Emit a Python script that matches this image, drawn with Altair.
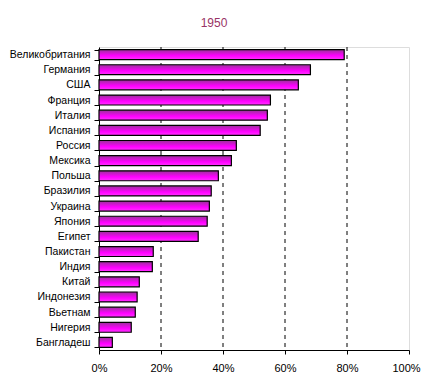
import altair as alt
import pandas as pd

countries = ["Великобритания", "Германия", "США", "Франция", "Италия", "Испания",
             "Россия", "Мексика", "Польша", "Бразилия", "Украина", "Япония", "Египет",
             "Пакистан", "Индия", "Китай", "Индонезия", "Вьетнам", "Нигерия", "Бангладеш"]
values = [0.791, 0.682, 0.643, 0.553, 0.543, 0.520, 0.443, 0.427, 0.385, 0.362,
          0.356, 0.349, 0.320, 0.175, 0.172, 0.130, 0.123, 0.117, 0.104, 0.043]
x_ticks = [0, 0.2, 0.4, 0.6, 0.8, 1.0]
grid_values = [0.2, 0.4, 0.6, 0.8]

df = pd.DataFrame({"country": countries, "value": values})
grid_df = pd.DataFrame({"g": grid_values})

gradient = alt.LinearGradient(
    gradient="linear", x1=0, y1=0, x2=0, y2=1,
    stops=[alt.GradientStop(offset=0, color="#993399"),
           alt.GradientStop(offset=0.6, color="#ff00ff"),
           alt.GradientStop(offset=1, color="#ff33ff")])

font = "Liberation Sans"

xscale = alt.Scale(domain=[0, 1], nice=False)
xaxis = alt.Axis(values=x_ticks, format=".0%", title=None,
                 grid=False, labelFlush=False,
                 labelOffset=alt.ExprRef(expr="datum.value >= 1 ? -3 : 0"),
                 domainColor="black", tickColor="black", tickSize=4,
                 labelFont=font, labelFontSize=11, labelColor="black",
                 labelPadding=8, domainWidth=1)

grid = alt.Chart(grid_df).mark_rule(
    color="black", strokeDash=[4, 4], strokeWidth=1
).encode(x=alt.X("g:Q", scale=xscale, axis=xaxis))

bars = alt.Chart(df).mark_bar(
    fill=gradient, stroke="black", strokeWidth=1.2
).encode(
    x=alt.X("value:Q", scale=xscale, axis=xaxis),
    y=alt.Y("country:N", sort=countries,
            scale=alt.Scale(paddingInner=0.34, paddingOuter=0.17),
            axis=alt.Axis(title=None, tickBand="extent", tickSize=5,
                          tickColor="black", domainColor="black",
                          labelFont=font, labelFontSize=10.5, labelColor="black",
                          labelPadding=4, grid=False)),
)

chart = alt.layer(grid, bars).properties(
    width=310, height=303,
    title=alt.Title("1950", font=font, fontSize=12, fontWeight="normal",
                    color="#993366", offset=12, anchor="middle", dx=-40),
    autosize=alt.AutoSizeParams(type="none"),
    padding={"left": 91, "top": 39, "right": 13, "bottom": 30},
).configure_view(stroke="#808080", strokeWidth=1).configure(background="white")

chart.save("out.html", embed_options={"renderer": "svg", "actions": False})
